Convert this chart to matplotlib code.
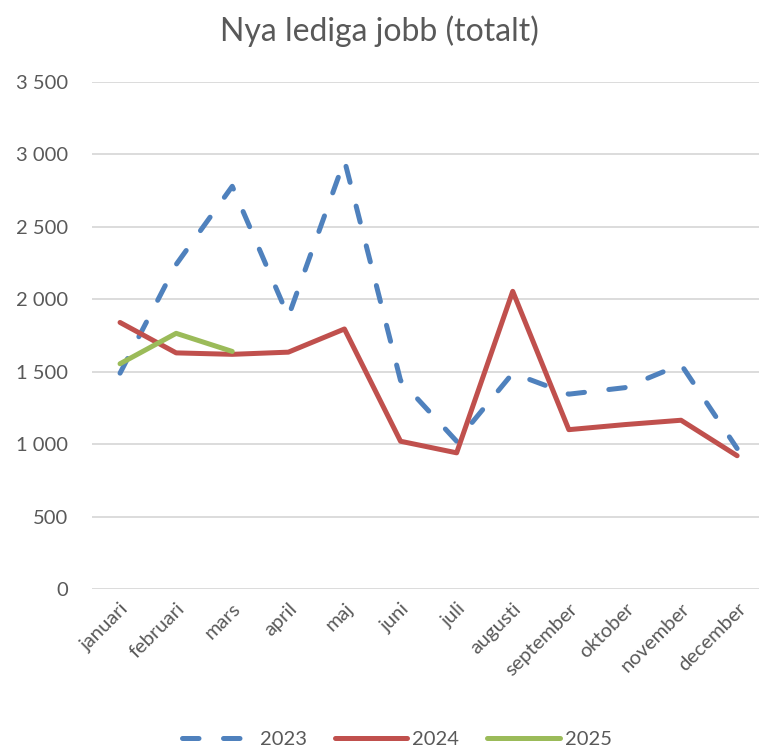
import matplotlib.pyplot as plt
from matplotlib.ticker import FuncFormatter, MultipleLocator

months = ["januari", "februari", "mars", "april", "maj", "juni", "juli",
          "augusti", "september", "oktober", "november", "december"]
jobs_2023 = [1490, 2240, 2780, 1880, 2960, 1440, 1020, 1490, 1345, 1390, 1550, 970]
jobs_2024 = [1840, 1630, 1620, 1635, 1795, 1020, 940, 2055, 1100, 1135, 1165, 920]
jobs_2025 = [1555, 1765, 1640]

plt.rcParams['font.family'] = ['Lato', 'DejaVu Sans']
grey = "#595959"

fig = plt.figure(figsize=(7.59, 7.49), dpi=100)
ax = fig.add_axes([92 / 759, 1 - 589 / 749, (759 - 92) / 759, (589 - 82) / 749])

x = list(range(len(months)))
ax.plot(x, jobs_2023, color="#4F81BD", lw=3.6, dashes=(3.3, 4.9),
        dash_capstyle="round", solid_capstyle="round", label="2023")
ax.plot(x, jobs_2024, color="#C0504D", lw=3.6, solid_capstyle="round", label="2024")
ax.plot(x[:len(jobs_2025)], jobs_2025, color="#9BBB59", lw=3.6,
        solid_capstyle="round", label="2025")

ax.set_xlim(-0.5, 11.39)
ax.set_ylim(0, 3500)
ax.yaxis.set_major_locator(MultipleLocator(500))
ax.yaxis.set_major_formatter(FuncFormatter(lambda v, p: f"{int(v):,}".replace(",", " ")))
ax.grid(axis="y", color="#D9D9D9", lw=1.3)
ax.set_axisbelow(True)
for s in ax.spines.values():
    s.set_visible(False)

ax.set_xticks(x)
ax.set_xticklabels(months, rotation=45, ha="right", rotation_mode="anchor")
ax.tick_params(axis="both", length=0, labelsize=14.5, colors=grey)
ax.tick_params(axis="y", pad=17)
ax.tick_params(axis="x", pad=8)

fig.text(0.5, 1 - 31 / 749, "Nya lediga jobb (totalt)", ha="center", va="center",
         fontsize=23, color=grey)

leg = fig.legend(loc="center", bbox_to_anchor=(397 / 759, 1 - 739 / 749), ncol=3,
                 frameon=False, fontsize=14.5, handlelength=3.6, columnspacing=1.4,
                 handletextpad=0.25)
for t in leg.get_texts():
    t.set_color(grey)

fig.savefig("out.png", dpi=100)
